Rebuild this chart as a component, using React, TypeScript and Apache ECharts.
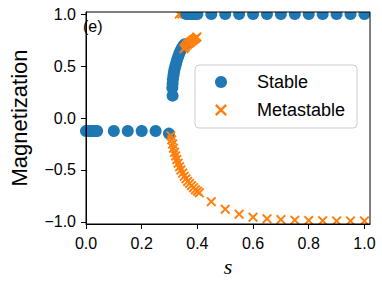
import React, { useEffect, useRef } from "react";
import * as echarts from "echarts";

// ---- data ----
const stableS = [
  0, 0.005, 0.01, 0.015, 0.02, 0.025, 0.03, 0.035, 0.04,
  0.1, 0.15, 0.2, 0.25, 0.298,
  0.311, 0.310, 0.311, 0.312, 0.314, 0.316, 0.318, 0.321, 0.324, 0.327, 0.331, 0.335, 0.340, 0.345, 0.350, 0.355,
  0.36, 0.365, 0.37, 0.375, 0.38, 0.385, 0.39, 0.395, 0.4,
  0.45, 0.5, 0.55, 0.6, 0.65, 0.7, 0.75, 0.8, 0.85, 0.9, 0.95, 1.0,
];
const stableM = [
  -0.125, -0.125, -0.125, -0.125, -0.125, -0.125, -0.125, -0.125, -0.125,
  -0.125, -0.125, -0.125, -0.125, -0.15,
  0.215, 0.29, 0.33, 0.37, 0.41, 0.44, 0.47, 0.5, 0.53, 0.56, 0.59, 0.62, 0.65, 0.675, 0.695, 0.71,
  1, 1, 1, 1, 1, 1, 1, 1, 1,
  1, 1, 1, 1, 1, 1, 1, 1, 1, 1, 1, 1,
];
const metaS = [
  0.305, 0.308, 0.311, 0.314, 0.318, 0.322, 0.326, 0.331, 0.336, 0.341, 0.347, 0.353, 0.359, 0.365, 0.372,
  0.379, 0.386, 0.393, 0.4, 0.407,
  0.45, 0.5, 0.55, 0.6, 0.65, 0.7, 0.75, 0.8, 0.85, 0.9, 0.95, 1.0,
  0.352, 0.356, 0.36, 0.365, 0.37, 0.375, 0.38, 0.385, 0.39, 0.395, 0.398,
];
const metaM = [
  -0.17, -0.21, -0.25, -0.29, -0.33, -0.365, -0.4, -0.435, -0.47, -0.5, -0.53, -0.56, -0.585, -0.61, -0.63,
  -0.65, -0.67, -0.69, -0.705, -0.72,
  -0.805, -0.877, -0.925, -0.954, -0.97, -0.977, -0.983, -0.986, -0.988, -0.99, -0.99, -0.99,
  0.667, 0.68, 0.695, 0.71, 0.72, 0.73, 0.74, 0.75, 0.76, 0.77, 0.78,
];
const metaTopS = [0.335, 0.345, 0.355];
const metaTopM = [1, 1, 1];

const xTicks = [0, 0.2, 0.4, 0.6, 0.8, 1.0];
const yTicks = [-1, -0.5, 0, 0.5, 1];
const seriesNames = ["Stable", "Metastable"];
const panelLabel = "(e)";

const BLUE = "#1f77b4";
const ORANGE = "#ff7f0e";
const CROSS = "path://M1.4,0L5,3.6L8.6,0L10,1.4L6.4,5L10,8.6L8.6,10L5,6.4L1.4,10L0,8.6L3.6,5L0,1.4Z";
const FONT = "Liberation Sans";

const W = 382;
const H = 286;
const G = { left: 77, right: 12, top: 12, bottom: 62 };

const zip = (a: number[], b: number[]) => a.map((v, i) => [v, b[i]]);
const fmt = (v: number) => v.toFixed(1).replace("-", "\u2212");

export default function App() {
  const ref = useRef<HTMLDivElement>(null);
  useEffect(() => {
    document.body.style.margin = "0";
    if (!ref.current) return;
    const chart = echarts.init(ref.current, null, { renderer: "svg" });
    const axisCommon = {
      type: "value" as const,
      z: 10,
      splitLine: { show: false },
      axisLine: { show: true, onZero: false, lineStyle: { color: "#000", width: 1 } },
      axisTick: { show: true, length: 5, lineStyle: { color: "#000", width: 1 } },
    };
    chart.setOption({
      animation: false,
      backgroundColor: "#fff",
      grid: {
        ...G,
        show: true,
        z: 10,
        borderColor: "#000",
        borderWidth: 1,
        backgroundColor: "transparent",
      },
      xAxis: {
        ...axisCommon,
        min: 0,
        max: 1.02,
        axisTick: { ...axisCommon.axisTick, customValues: xTicks },
        axisLabel: {
          customValues: xTicks,
          formatter: fmt,
          fontSize: 16,
          fontFamily: FONT,
          color: "#000",
          margin: 11,
        },
        name: "s",
        nameLocation: "middle",
        nameGap: 31,
        nameTextStyle: {
          fontFamily: "Liberation Serif",
          fontStyle: "italic",
          fontSize: 22,
          color: "#000",
        },
      },
      yAxis: {
        ...axisCommon,
        min: -1.02,
        max: 1.02,
        axisTick: { ...axisCommon.axisTick, customValues: yTicks },
        axisLabel: {
          customValues: yTicks,
          formatter: fmt,
          fontSize: 16,
          fontFamily: FONT,
          color: "#000",
          margin: 10,
        },
        name: "Magnetization",
        nameLocation: "middle",
        nameGap: 56,
        nameTextStyle: { fontFamily: FONT, fontSize: 22, color: "#000" },
      },
      legend: {
        z: 20,
        orient: "vertical",
        left: 195,
        top: 65,
        padding: [8, 12, 9, 20],
        itemGap: 10,
        itemWidth: 14,
        itemHeight: 12,
        borderColor: "#cccccc",
        borderWidth: 1,
        borderRadius: 4,
        backgroundColor: "rgba(255,255,255,0.8)",
        textStyle: { fontFamily: FONT, fontSize: 18, color: "#000", padding: [0, 0, 0, 24] },
        data: [
          { name: seriesNames[0], icon: "circle" },
          { name: seriesNames[1], icon: CROSS },
        ],
      },
      graphic: [
        { type: "rect", z: 5, silent: true, shape: { x: 0, y: 0, width: W, height: G.top }, style: { fill: "#fff" } },
        { type: "rect", z: 5, silent: true, shape: { x: 0, y: H - G.bottom, width: W, height: G.bottom }, style: { fill: "#fff" } },
        { type: "rect", z: 5, silent: true, shape: { x: 0, y: 0, width: G.left, height: H }, style: { fill: "#fff" } },
        { type: "rect", z: 5, silent: true, shape: { x: W - G.right, y: 0, width: G.right, height: H }, style: { fill: "#fff" } },
        {
          type: "text",
          z: 20,
          left: 83,
          top: 18,
          style: { text: panelLabel, fontFamily: FONT, fontSize: 16, fill: "#000" },
        },
      ],
      series: [
        {
          name: seriesNames[1],
          type: "scatter",
          z: 1,
          symbol: CROSS,
          symbolSize: 10,
          itemStyle: { color: ORANGE, opacity: 1 },
          data: zip(metaTopS, metaTopM),
        },
        {
          name: seriesNames[0],
          type: "scatter",
          z: 2,
          symbol: "circle",
          symbolSize: 12,
          itemStyle: { color: BLUE, opacity: 1 },
          data: zip(stableS, stableM),
        },
        {
          name: seriesNames[1],
          type: "scatter",
          z: 3,
          symbol: CROSS,
          symbolSize: 10,
          itemStyle: { color: ORANGE, opacity: 1 },
          data: zip(metaS, metaM),
        },
      ],
    });
    return () => chart.dispose();
  }, []);
  return <div ref={ref} style={{ width: W, height: H }} />;
}
